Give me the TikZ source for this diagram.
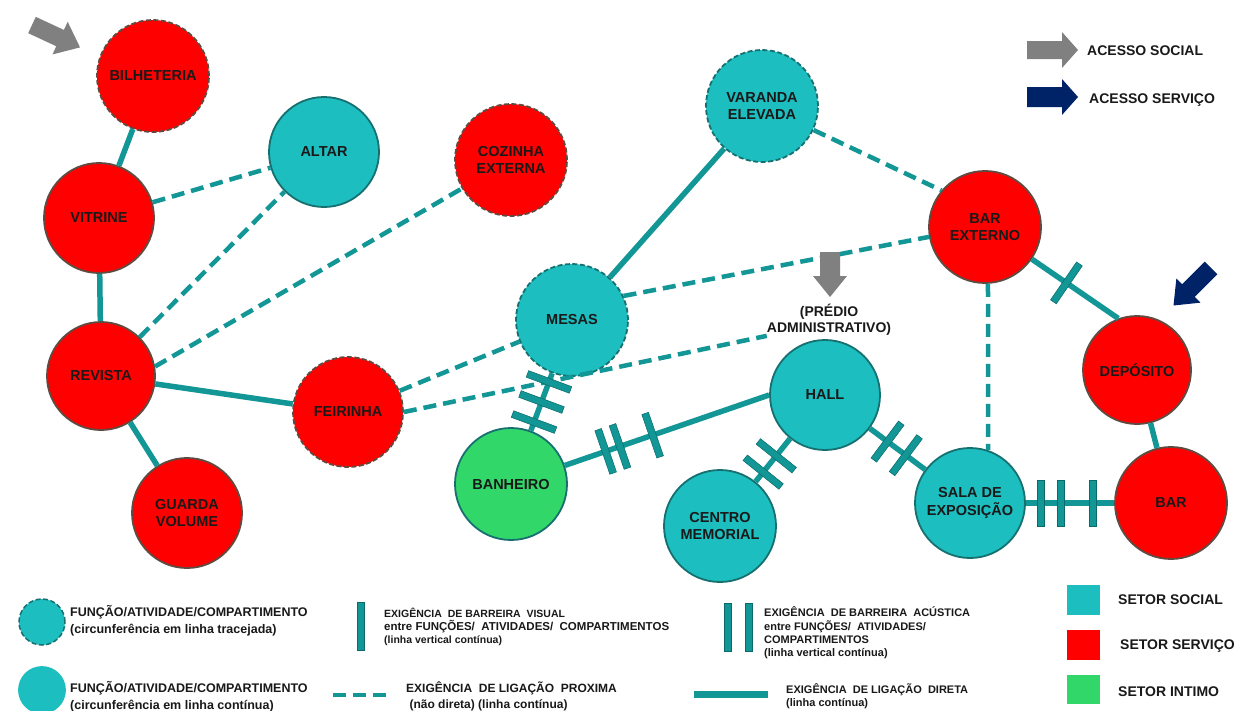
\documentclass[tikz,border=0pt]{standalone}
\usepackage{fontspec}
\setmainfont{Liberation Sans}
\definecolor{socialc}{RGB}{28,190,192}
\definecolor{socialb}{RGB}{22,112,112}
\definecolor{servc}{RGB}{255,0,0}
\definecolor{servb}{RGB}{95,75,65}
\definecolor{intc}{RGB}{50,215,105}
\definecolor{linkc}{RGB}{18,150,150}
\definecolor{linkd}{RGB}{10,105,105}
\definecolor{grayarr}{RGB}{128,128,128}
\definecolor{navyarr}{RGB}{0,34,102}
\definecolor{txt}{RGB}{25,25,25}
\begin{document}
\begin{tikzpicture}[x=1pt,y=-1pt,
  room/.style={circle, minimum size=110pt, inner sep=0pt, line width=1.8pt, align=center,
    text=txt, font=\bfseries\fontsize{14.5}{17.5}\selectfont},
  social/.style={room, fill=socialc, draw=socialb},
  service/.style={room, fill=servc, draw=servb},
  intimate/.style={room, fill=intc, draw=socialb},
  dashedrim/.style={dash pattern=on 5pt off 2.5pt},
  direct/.style={draw=linkc, line width=5.5pt},
  near/.style={draw=linkc, line width=4.5pt, dash pattern=on 13pt off 7pt},
  tickbar/.style={rectangle, fill=linkc, draw=linkd, line width=0.5pt,
    minimum width=7pt, minimum height=46pt, inner sep=0pt},
  tick/.style={tickbar, sloped},
  legtext/.style={align=left, inner sep=0pt, text=txt, font=\bfseries\fontsize{12.5}{17}\selectfont},
  legsmall/.style={align=left, inner sep=0pt, text=txt, font=\bfseries\fontsize{10.5}{13.3}\selectfont},
  legmid/.style={align=left, inner sep=0pt, text=txt, font=\bfseries\fontsize{11}{13.3}\selectfont},
  legnear/.style={align=left, inner sep=0pt, text=txt, font=\bfseries\fontsize{12}{16}\selectfont},
  legbig/.style={align=left, inner sep=0pt, text=txt, font=\bfseries\fontsize{14}{16}\selectfont}
]
\useasboundingbox[fill=white] (0,0) rectangle (1234,710);

% ---------- rooms ----------
\node[service, dashedrim, minimum size=112pt] (bilheteria) at (153,76) {BILHETERIA};
\node[service] (vitrine) at (99,218) {VITRINE};
\node[social] (altar) at (324,152) {ALTAR};
\node[service, dashedrim, minimum size=112pt] (cozinha) at (511,160) {COZINHA\\EXTERNA};
\node[social, dashedrim, minimum size=112pt] (varanda) at (762,106) {VARANDA\\ELEVADA};
\node[service, minimum size=112pt] (barext) at (985,227) {BAR\\EXTERNO};
\node[social, dashedrim, minimum size=112pt] (mesas) at (572,320) {MESAS};
\node[service, minimum size=108pt] (revista) at (101,376) {REVISTA};
\node[service, dashedrim] (feirinha) at (348,412) {FEIRINHA};
\node[service] (guarda) at (187,513) {GUARDA\\VOLUME};
\node[intimate, minimum size=112pt] (banheiro) at (511,484) {BANHEIRO};
\node[social] (hall) at (825,395) {HALL};
\node[social, minimum size=112pt] (centro) at (720,526) {CENTRO\\MEMORIAL};
\node[social] (sala) at (970,503) {SALA DE\\EXPOSIÇÃO};
\node[service, minimum size=112pt] (bar) at (1171,503) {BAR};
\node[service, minimum size=108pt] (deposito) at (1137,370) {DEPÓSITO};
\node[inner sep=0pt, align=center, text=txt, font=\bfseries\fontsize{14}{16}\selectfont]
  (predio) at (829,320) {(PRÉDIO\\ADMINISTRATIVO)};

% ---------- direct links ----------
\draw[direct] (bilheteria) -- (vitrine);
\draw[direct] (vitrine) -- (revista);
\draw[direct] (revista) -- (feirinha);
\draw[direct] (revista) -- (guarda);
\draw[direct] (mesas) -- (varanda);
\draw[direct] (deposito) -- (bar);

% ---------- near (dashed) links ----------
\draw[near] (vitrine) -- (altar);
\draw[near] (revista) -- (altar);
\draw[near] (revista.10) -- (cozinha);
\draw[near] (feirinha) -- (mesas);
\draw[near] (feirinha.east) -- (predio.south west);
\draw[near] (mesas.25) -- (barext.190);
\draw[near] (varanda.-25) -- (barext.140);
\draw[near] (barext.-87) -- (sala.71);

% ---------- links with barriers ----------
\draw[direct] (banheiro) -- (mesas)
  node[tick, pos=0.15] (t1) {} node[tick, pos=0.5] (t2) {} node[tick, pos=0.85] (t3) {};
\draw[direct] (banheiro) -- (hall.west)
  node[tick, pos=0.2] (t4) {} node[tick, pos=0.27] (t5) {} node[tick, pos=0.43] (t6) {};
\draw[direct] (hall) -- (centro)
  node[tick, pos=0.4] (t7) {} node[tick, pos=0.78] (t8) {};
\draw[direct] (hall) -- (sala)
  node[tick, pos=0.32] (t9) {} node[tick, pos=0.65] (t10) {};
\draw[direct] (sala) -- (bar)
  node[tick, pos=0.17] (t11) {} node[tick, pos=0.39] (t12) {} node[tick, pos=0.76] (t13) {};
\draw[direct] (barext) -- (deposito.110)
  node[tick, pos=0.4] (t14) {};

% ---------- access arrows ----------
\begin{scope}[shift={(32,25)}, rotate=-25]
  \fill[grayarr] (0,-9) -- (31,-9) -- (31,-18) -- (53,0) -- (31,18) -- (31,9) -- (0,9) -- cycle;
\end{scope}
\begin{scope}[shift={(830,252)}, rotate=-90]
  \fill[grayarr] (0,-10) -- (24,-10) -- (24,-17) -- (45,0) -- (24,17) -- (24,10) -- (0,10) -- cycle;
\end{scope}
\begin{scope}[shift={(1211,268)}, rotate=-135]
  \fill[navyarr] (0,-9) -- (32,-9) -- (32,-17) -- (53,0) -- (32,17) -- (32,9) -- (0,9) -- cycle;
\end{scope}

% ---------- access legend ----------
\begin{scope}[shift={(1027,50)}]
  \fill[grayarr] (0,-9) -- (35,-9) -- (35,-18) -- (51,0) -- (35,18) -- (35,9) -- (0,9) -- cycle;
\end{scope}
\begin{scope}[shift={(1027,97)}]
  \fill[navyarr] (0,-10) -- (35,-10) -- (35,-18) -- (51,0) -- (35,18) -- (35,10) -- (0,10) -- cycle;
\end{scope}
\node[legbig, anchor=west] (accsocial) at (1087,51) {ACESSO SOCIAL};
\node[legbig, anchor=west] (accserv) at (1089,100) {ACESSO SERVIÇO};

% ---------- bottom legend ----------
\node[social, dashedrim, minimum size=46pt, line width=1.5pt] (legdash) at (42,622) {};
\node[social, draw=socialc, minimum size=46pt] (legsolid) at (42,690) {};
\node[legtext, anchor=west] (legdashtxt) at (70,621)
  {FUNÇÃO/ATIVIDADE/COMPARTIMENTO\\(circunferência em linha tracejada)};
\node[legtext, anchor=west] (legsolidtxt) at (70,697)
  {FUNÇÃO/ATIVIDADE/COMPARTIMENTO\\(circunferência em linha contínua)};

\node[tickbar, minimum height=48pt] (legvis) at (361,626) {};
\node[legsmall, anchor=west] (legvistxt) at (384,627)
  {EXIGÊNCIA~~DE BARREIRA~~VISUAL\\{\fontsize{11.5}{13.3}\selectfont entre FUNÇÕES/~~ATIVIDADES/~~COMPARTIMENTOS}\\(linha vertical contínua)};

\coordinate (nd1) at (333,695);
\coordinate (nd2) at (387,695);
\draw[near] (nd1) -- (nd2);
\node[legnear, anchor=west] (legneartxt) at (406,696)
  {EXIGÊNCIA~~DE LIGAÇÃO~~PROXIMA\\~(não direta) (linha contínua)};

\node[tickbar, minimum height=48pt] (legac1) at (728,627) {};
\node[tickbar, minimum height=48pt] (legac2) at (749,627) {};
\node[legmid, anchor=west] (legactxt) at (764,633)
  {EXIGÊNCIA~~DE BARREIRA~~ACÚSTICA\\entre FUNÇÕES/~~ATIVIDADES/\\COMPARTIMENTOS\\(linha vertical contínua)};

\coordinate (dd1) at (694,694);
\coordinate (dd2) at (768,694);
\draw[draw=linkc, line width=7pt] (dd1) -- (dd2);
\node[legmid, anchor=west] (legdirtxt) at (786,696)
  {EXIGÊNCIA~~DE LIGAÇÃO~~DIRETA\\(linha contínua)};

\node[rectangle, fill=socialc, minimum width=33pt, minimum height=30pt, inner sep=0pt] (sqsocial) at (1083.5,600) {};
\node[rectangle, fill=servc, minimum width=33pt, minimum height=30pt, inner sep=0pt] (sqserv) at (1083.5,645) {};
\node[rectangle, fill=intc, minimum width=33pt, minimum height=29pt, inner sep=0pt] (sqint) at (1083.5,689.5) {};
\node[legbig, anchor=west] (setsocial) at (1118,600) {SETOR SOCIAL};
\node[legbig, anchor=west] (setserv) at (1120,646) {SETOR SERVIÇO};
\node[legbig, anchor=west] (setint) at (1118,692) {SETOR INTIMO};
\end{tikzpicture}
\end{document}
